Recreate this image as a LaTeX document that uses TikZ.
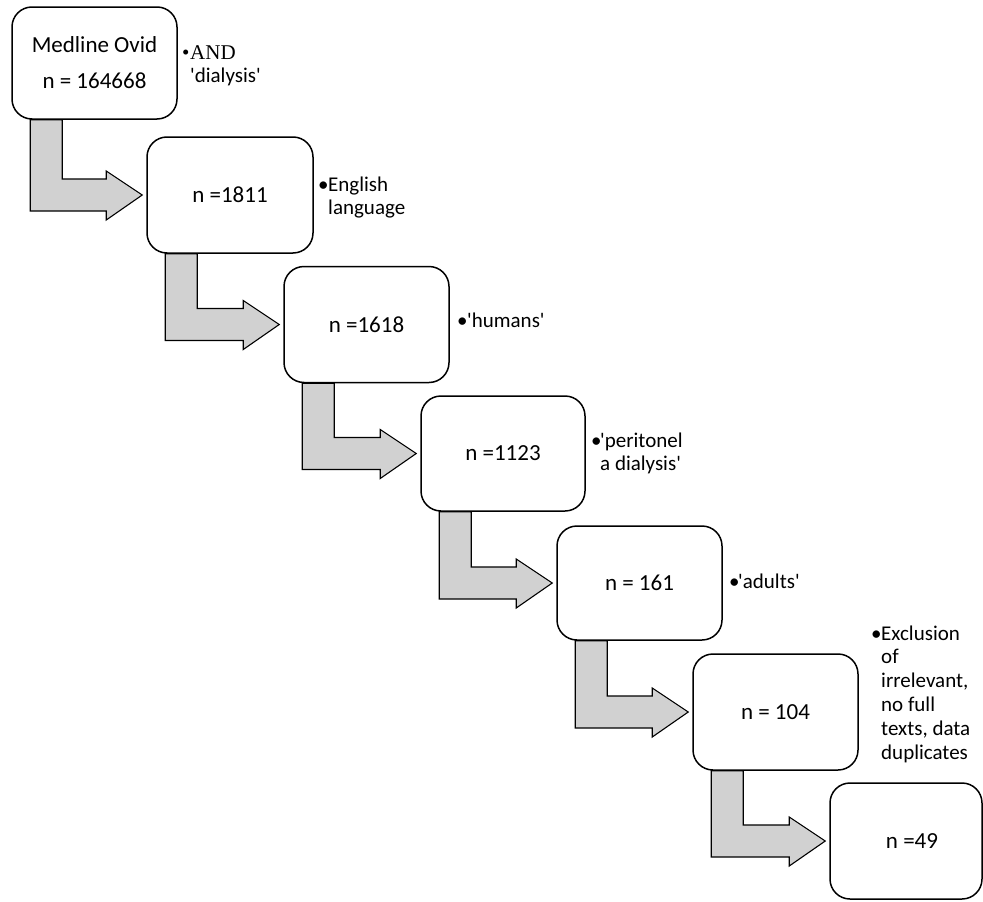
\documentclass[tikz,border=0pt]{standalone}
\usepackage{fontspec}
\setmainfont{Carlito}
\newfontfamily\timesfont{Liberation Serif}
\usetikzlibrary{calc}
\newcommand\sq{\textquotesingle}
\newcommand\lines[1]{\begin{tabular}[t]{@{}l@{}}#1\end{tabular}}
\newcommand\flowarrow[2]{%
  \path[flow] let \p1=(#1.south west), \p2=(#2.west) in
    (\x1+19pt,\y1) -- (\x1+51pt,\y1) -- (\x1+51pt,\y2+16pt) --
    (\x2-40pt,\y2+16pt) -- (\x2-40pt,\y2+24pt) -- (\x2-4pt,\y2) --
    (\x2-40pt,\y2-25pt) -- (\x2-40pt,\y2-16pt) -- (\x1+19pt,\y2-16pt) -- cycle;}
\begin{document}
\begin{tikzpicture}[x=1pt,y=-1pt,
  box/.style={draw, line width=1.5pt, rounded corners=20pt, fill=white,
    minimum width=165pt, minimum height=115pt, inner sep=0pt,
    font=\fontsize{23}{28}\selectfont, align=center},
  note/.style={anchor=base west, inner sep=0pt,
    font=\fontsize{21}{23.8}\selectfont},
  bul/.style={anchor=base west, inner sep=0pt, font=\fontsize{21}{24}\selectfont},
  flow/.style={draw=black, line width=1.1pt, fill=black!18, line join=miter}]
\useasboundingbox (0,0) rectangle (983,902);

\node[box, minimum height=112pt] (b1) at (94.5,63) {Medline Ovid\\[8pt]n = 164668};
\node[box, minimum width=166pt, minimum height=116pt] (b2) at (230,195) {n =1811};
\node[box, minimum height=116pt] (b3) at (366.5,324.5) {n =1618};
\node[box, minimum width=164pt] (b4) at (503,453.5) {n =1123};
\node[box, minimum height=114pt] (b5) at (639.5,583) {n = 161};
\node[box, minimum height=116pt] (b6) at (775.5,712) {n = 104};
\node[box, minimum width=152pt, minimum height=116pt] (b7) at (906,841) {\hspace*{12pt}n =49};

\flowarrow{b1}{b2}
\flowarrow{b2}{b3}
\flowarrow{b3}{b4}
\flowarrow{b4}{b5}
\flowarrow{b5}{b6}
\flowarrow{b6}{b7}

\node[bul] (d1) at (182,59) {\timesfont •};
\node[note] (t1) at (190,59) {\lines{{\timesfont AND}\\\sq dialysis\sq}};
\node[bul] (d2) at (318,191) {•};
\node[note] (t2) at (328,191) {\lines{English\\language}};
\node[bul] (d3) at (457,327) {•};
\node[note] (t3) at (467,327) {\sq humans\sq};
\node[bul] (d4) at (591,447) {•};
\node[note] (t4) at (600,447) {\lines{\sq peritonel\\a dialysis\sq}};
\node[bul] (d5) at (729,588) {•};
\node[note] (t5) at (738,588) {\sq adults\sq};
\node[bul] (d6) at (871,640) {•};
\node[note] (t6) at (881,640) {\lines{Exclusion\\of\\irrelevant,\\no full\\texts, data\\duplicates}};
\end{tikzpicture}
\end{document}
